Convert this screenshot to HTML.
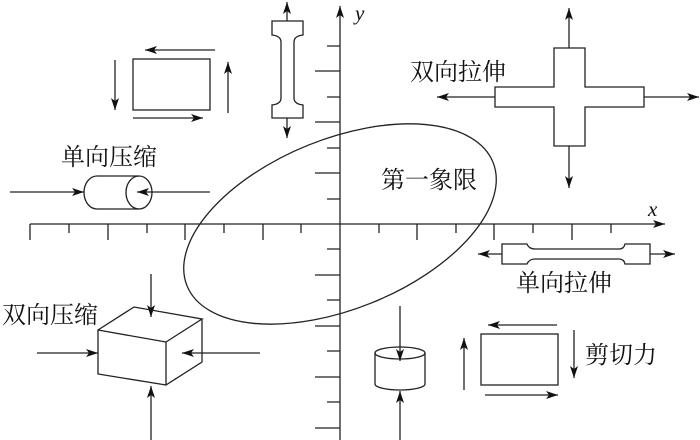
<!DOCTYPE html>
<html><head><meta charset="utf-8"><style>
html,body{margin:0;padding:0;background:#fff;}
svg{display:block;}
text{font-family:"Liberation Serif","Noto Serif CJK SC",serif;font-size:24px;fill:#111;}
</style></head><body>
<svg width="700" height="440" viewBox="0 0 700 440" xmlns="http://www.w3.org/2000/svg">
<defs>
<marker id="a" viewBox="0 0 12 8" refX="12" refY="4" markerWidth="12" markerHeight="8" markerUnits="userSpaceOnUse" orient="auto">
<path d="M0,0 L12,4 L0,8 L3,4 Z" fill="#111"/></marker>
</defs>
<g stroke="#222" stroke-width="1.3" fill="none">
<line x1="30" y1="224" x2="665" y2="224" marker-end="url(#a)"/>
<line x1="340" y1="440" x2="340" y2="6" marker-end="url(#a)"/>
<path d="M30,224V240M69,224V233M108,224V240M147,224V233M185,224V240M224,224V233M263,224V240M301,224V233M379,224V233M417,224V240M456,224V233M494,224V240M533,224V233M572,224V240M611,224V233"/>
<path d="M327,46H340M315,71H340M327,97H340M315,122H340M327,148H340M315,173H340M327,199H340M327,249H340M315,275H340M327,300H340M315,326H340M327,351H340M315,377H340M327,402H340M315,428H340"/>
<ellipse cx="340" cy="224" rx="165" ry="85" transform="rotate(-22 340 224)"/>
<rect x="133" y="59" width="77" height="51"/>
<line x1="215" y1="50" x2="145" y2="50" marker-end="url(#a)"/>
<line x1="133" y1="118" x2="203" y2="118" marker-end="url(#a)"/>
<line x1="115" y1="60" x2="115" y2="110" marker-end="url(#a)"/>
<line x1="228" y1="113" x2="228" y2="62" marker-end="url(#a)"/>
<path d="M272,21H303V35Q294,36 294,42V98Q294,104 303,105V118H272V105Q281,104 281,98V42Q281,36 272,35Z"/>
<line x1="287" y1="21" x2="287" y2="2" marker-end="url(#a)"/>
<line x1="287" y1="118" x2="287" y2="138" marker-end="url(#a)"/>
<path d="M139,176H97A13,16.5 0 0 0 97,209H139"/>
<ellipse cx="139" cy="192.5" rx="13" ry="16.5"/>
<line x1="10" y1="192" x2="84" y2="192" marker-end="url(#a)"/>
<line x1="210" y1="192" x2="137" y2="192" marker-end="url(#a)"/>
<path d="M554,48H585V87H644V107H585V146H554V107H495V87H554Z"/>
<line x1="569" y1="48" x2="569" y2="8" marker-end="url(#a)"/>
<line x1="569" y1="146" x2="569" y2="188" marker-end="url(#a)"/>
<line x1="495" y1="97" x2="437" y2="97" marker-end="url(#a)"/>
<line x1="644" y1="97" x2="699" y2="97" marker-end="url(#a)"/>
<path d="M502,244H527Q529,249 535,249H619Q624,249 625,244H650V264H625Q624,259 619,259H535Q529,259 527,264H502Z"/>
<line x1="502" y1="254" x2="478" y2="254" marker-end="url(#a)"/>
<line x1="650" y1="254" x2="675" y2="254" marker-end="url(#a)"/>
<path d="M375,353V384A25,6 0 0 0 425,384V353"/>
<ellipse cx="400" cy="353" rx="25" ry="6"/>
<line x1="400" y1="306" x2="400" y2="361" marker-end="url(#a)"/>
<line x1="400" y1="440" x2="400" y2="391" marker-end="url(#a)"/>
<rect x="481" y="334" width="77" height="51"/>
<line x1="557" y1="325" x2="488" y2="325" marker-end="url(#a)"/>
<line x1="485" y1="395" x2="558" y2="395" marker-end="url(#a)"/>
<line x1="464" y1="390" x2="464" y2="338" marker-end="url(#a)"/>
<line x1="574" y1="330" x2="574" y2="378" marker-end="url(#a)"/>
<path d="M98,330L166,342V385L98,374Z M98,330L134,307L202,319L166,342 M202,319V362L166,385"/>
<line x1="151" y1="274" x2="151" y2="317" marker-end="url(#a)"/>
<line x1="151" y1="440" x2="151" y2="386" marker-end="url(#a)"/>
<line x1="37" y1="353" x2="98" y2="353" marker-end="url(#a)"/>
<line x1="260" y1="353" x2="182" y2="353" marker-end="url(#a)"/>
</g>
<text x="61" y="165">单向压缩</text>
<text x="410" y="80">双向拉伸</text>
<text x="381" y="188">第一象限</text>
<text x="516" y="291">单向拉伸</text>
<text x="585" y="363">剪切力</text>
<text x="2" y="323">双向压缩</text>
<text x="648" y="216" style="font-family:'Liberation Serif',serif;font-style:italic;font-size:21px">x</text>
<text x="355" y="20" style="font-family:'Liberation Serif',serif;font-style:italic;font-size:21px">y</text>
</svg>
</body></html>
